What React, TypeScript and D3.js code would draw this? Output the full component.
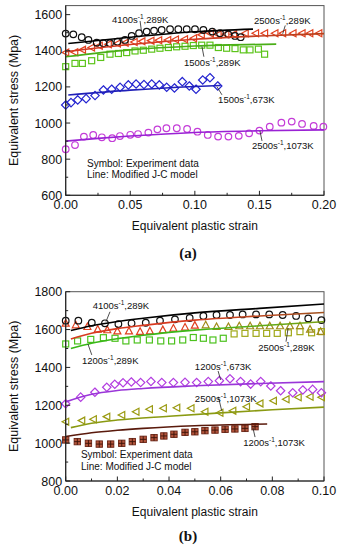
import React from 'react';
import * as d3 from 'd3';

const FONT = '"Liberation Sans", Arial, Helvetica, sans-serif';

// ---------------- Chart (a) data ----------------
const aXTicks = [0, 0.05, 0.1, 0.15, 0.2];
const aXMinor = [0.025, 0.075, 0.125, 0.175];
const aYTicks = [600, 800, 1000, 1200, 1400, 1600];
const aYMinor = [700, 900, 1100, 1300, 1500];

const a4100Strain = [0, 0.0059, 0.0124, 0.0176, 0.024, 0.0292, 0.0343, 0.04, 0.0459, 0.0511, 0.0568, 0.0627, 0.0684, 0.0743, 0.0808, 0.0872, 0.0937, 0.1001, 0.1066, 0.1135, 0.1195, 0.1259, 0.1311, 0.1355];
const a4100Stress = [1495, 1491, 1475, 1460, 1445, 1442, 1442, 1450, 1460, 1482, 1497, 1506, 1511, 1515, 1519, 1519, 1519, 1519, 1515, 1506, 1497, 1491, 1482, 1475];

const a2500Strain = [0, 0.007, 0.013, 0.02, 0.026, 0.033, 0.04, 0.046, 0.053, 0.059, 0.066, 0.072, 0.079, 0.085, 0.092, 0.099, 0.105, 0.112, 0.118, 0.124, 0.13, 0.139, 0.147, 0.154, 0.162, 0.168, 0.176, 0.183, 0.189, 0.196];
const a2500Stress = [1390, 1392, 1405, 1418, 1428, 1436, 1440, 1444, 1448, 1452, 1456, 1458, 1460, 1462, 1464, 1469, 1488, 1495, 1490, 1492, 1491, 1497, 1497, 1497, 1497, 1497, 1497, 1497, 1497, 1497];

const a1500Strain = [0, 0.0072, 0.0129, 0.0201, 0.0271, 0.0343, 0.0408, 0.0472, 0.0537, 0.0601, 0.0666, 0.073, 0.0795, 0.0859, 0.0924, 0.0988, 0.1053, 0.1117, 0.1182, 0.1246, 0.1311, 0.1375, 0.1427, 0.1492, 0.154];
const a1500Stress = [1312, 1330, 1330, 1345, 1363, 1381, 1385, 1390, 1399, 1403, 1409, 1414, 1418, 1422, 1425, 1429, 1431, 1431, 1418, 1414, 1412, 1405, 1405, 1409, 1381];

const a673Strain = [0, 0.0041, 0.0093, 0.0158, 0.0227, 0.0292, 0.0356, 0.0421, 0.0485, 0.0545, 0.0606, 0.0666, 0.0725, 0.0782, 0.0842, 0.0903, 0.0957, 0.1009, 0.1061, 0.1117, 0.1177];
const a673Stress = [1100, 1113, 1128, 1135, 1152, 1183, 1187, 1198, 1211, 1216, 1213, 1216, 1211, 1198, 1194, 1229, 1205, 1187, 1238, 1251, 1205];

const a1073Strain = [0, 0.0072, 0.0141, 0.0213, 0.028, 0.036, 0.042, 0.05, 0.056, 0.064, 0.071, 0.078, 0.086, 0.094, 0.102, 0.11, 0.118, 0.126, 0.134, 0.142, 0.15, 0.158, 0.167, 0.175, 0.183, 0.192, 0.1995];
const a1073Stress = [855, 878, 925, 934, 921, 916, 928, 935, 939, 947, 965, 971, 971, 967, 952, 934, 925, 925, 929, 943, 958, 980, 1002, 1008, 995, 984, 980];

const aLine4100 = [[0.002, 1440], [0.05, 1475], [0.1, 1505], [0.145, 1520]];
const aLine2500 = [[0, 1395], [0.05, 1435], [0.1, 1464], [0.15, 1482], [0.2, 1495]];
const aLine1500 = [[0, 1367], [0.05, 1405], [0.1, 1426], [0.163, 1437]];
const aLine673 = [[0.002, 1155], [0.05, 1182], [0.1, 1202], [0.12, 1208]];
const aLine1073 = [[0, 900], [0.025, 915], [0.05, 928], [0.1, 948], [0.15, 957], [0.2, 962]];

// ---------------- Chart (b) data ----------------
const bXTicks = [0, 0.02, 0.04, 0.06, 0.08, 0.1];
const bXMinor = [0.01, 0.03, 0.05, 0.07, 0.09];
const bYTicks = [800, 1000, 1200, 1400, 1600, 1800];
const bYMinor = [900, 1100, 1300, 1500, 1700];

const b4100Strain = [0, 0.0049, 0.0101, 0.0152, 0.0204, 0.0255, 0.031, 0.0365, 0.0423, 0.048, 0.0533, 0.0584, 0.0636, 0.0685, 0.0737, 0.0788, 0.084, 0.0892, 0.0939, 0.099];
const b4100Stress = [1647, 1647, 1636, 1633, 1629, 1633, 1636, 1647, 1654, 1661, 1672, 1677, 1677, 1680, 1680, 1680, 1677, 1672, 1659, 1650];

const b2500Strain = [0, 0.0039, 0.0084, 0.0124, 0.0161, 0.02, 0.0245, 0.0288, 0.0326, 0.0376, 0.0417, 0.0462, 0.05, 0.0542, 0.0584, 0.063, 0.0672, 0.0714, 0.0752, 0.079, 0.083, 0.0868, 0.0907, 0.0946, 0.0987];
const b2500Stress = [1633, 1624, 1615, 1601, 1598, 1592, 1592, 1589, 1592, 1598, 1607, 1612, 1622, 1624, 1615, 1615, 1619, 1619, 1619, 1619, 1619, 1619, 1619, 1601, 1589];

const b1200Strain = [0, 0.0046, 0.0097, 0.0146, 0.0191, 0.0233, 0.0277, 0.0324, 0.0368, 0.041, 0.0453, 0.0494, 0.0533, 0.057, 0.061, 0.0652, 0.0694, 0.0737, 0.0778, 0.0819, 0.0862, 0.0907, 0.0952, 0.099];
const b1200Stress = [1524, 1540, 1548, 1557, 1554, 1540, 1545, 1545, 1540, 1540, 1545, 1558, 1554, 1545, 1554, 1577, 1580, 1580, 1580, 1580, 1583, 1589, 1583, 1589];

const b673Strain = [0, 0.0058, 0.0113, 0.0159, 0.019, 0.0222, 0.0254, 0.029, 0.033, 0.0372, 0.0417, 0.0462, 0.0507, 0.0552, 0.0595, 0.0636, 0.0677, 0.0716, 0.0755, 0.0794, 0.0832, 0.0879, 0.0918, 0.0956, 0.099];
const b673Stress = [1208, 1243, 1269, 1295, 1311, 1319, 1323, 1320, 1326, 1320, 1320, 1321, 1320, 1325, 1330, 1340, 1325, 1312, 1325, 1302, 1277, 1266, 1281, 1284, 1266];

const b2500hStrain = [0, 0.0062, 0.0107, 0.0159, 0.0217, 0.0272, 0.0324, 0.0378, 0.043, 0.0485, 0.0539, 0.0597, 0.0647, 0.07, 0.0752, 0.0804, 0.0853, 0.09, 0.0946, 0.099];
const b2500hStress = [1113, 1119, 1126, 1140, 1149, 1166, 1179, 1184, 1187, 1184, 1166, 1161, 1171, 1192, 1210, 1224, 1232, 1242, 1245, 1242];

const b1200hStrain = [0, 0.0045, 0.0088, 0.013, 0.0174, 0.0217, 0.0258, 0.03, 0.0342, 0.038, 0.0419, 0.0462, 0.05, 0.0539, 0.0578, 0.0617, 0.0655, 0.0694, 0.0733];
const b1200hStress = [1017, 1008, 999, 995, 995, 999, 1008, 1020, 1029, 1038, 1047, 1057, 1060, 1066, 1069, 1073, 1075, 1078, 1087];

const bLine4100 = [[0.002, 1595], [0.01, 1620], [0.02, 1643], [0.03, 1660], [0.05, 1688], [0.075, 1712], [0.1, 1735]];
const bLine2500 = [[0.002, 1550], [0.01, 1580], [0.02, 1605], [0.03, 1622], [0.05, 1650], [0.075, 1672], [0.1, 1690]];
const bLine1200 = [[0.002, 1500], [0.01, 1528], [0.02, 1552], [0.03, 1570], [0.05, 1597], [0.075, 1620], [0.1, 1642]];
const bLine673 = [[0, 1218], [0.01, 1258], [0.02, 1278], [0.03, 1289], [0.05, 1303], [0.075, 1315], [0.1, 1325]];
const bLine2500h = [[0.002, 1082], [0.01, 1105], [0.02, 1122], [0.04, 1142], [0.06, 1160], [0.08, 1176], [0.1, 1190]];
const bLine1200h = [[0, 1035], [0.01, 1055], [0.02, 1068], [0.03, 1078], [0.05, 1092], [0.078, 1101]];

type Shape = 'circle' | 'triL' | 'triU' | 'square' | 'diamond' | 'hatchSq';

function Marker({ shape, x, y, color }: { shape: Shape; x: number; y: number; color: string }) {
  const sw = 1.2;
  switch (shape) {
    case 'circle':
      return <circle cx={x} cy={y} r={3.3} fill="none" stroke={color} strokeWidth={sw} />;
    case 'triL':
      return <polygon points={`${x - 3.6},${y} ${x + 3},${y - 3.5} ${x + 3},${y + 3.5}`} fill="none" stroke={color} strokeWidth={sw} />;
    case 'triU':
      return <polygon points={`${x},${y - 3.8} ${x + 3.5},${y + 2.8} ${x - 3.5},${y + 2.8}`} fill="none" stroke={color} strokeWidth={sw} />;
    case 'square':
      return <rect x={x - 3} y={y - 3} width={6} height={6} fill="none" stroke={color} strokeWidth={sw} />;
    case 'diamond':
      return <polygon points={`${x},${y - 4.2} ${x + 4.2},${y} ${x},${y + 4.2} ${x - 4.2},${y}`} fill="none" stroke={color} strokeWidth={sw} />;
    case 'hatchSq':
      return (
        <g>
          <rect x={x - 3.2} y={y - 3.2} width={6.4} height={6.4} fill="#b4553c" stroke="#6a2414" strokeWidth={0.9} />
          <line x1={x} y1={y - 3.2} x2={x} y2={y + 3.2} stroke="#3a1208" strokeWidth={0.9} />
          <line x1={x - 3.2} y1={y} x2={x + 3.2} y2={y} stroke="#3a1208" strokeWidth={0.9} />
        </g>
      );
  }
  return null;
}

interface Series { strain: number[]; stress: number[]; shape: Shape; color: (s: number) => string; }
interface Curve { pts: number[][]; color: string; color2?: string; id: string; }
interface Label { text: string; sup?: string; tail?: string; x: number; y: number; lx1?: number; ly1?: number; lx2?: number; ly2?: number; size?: number; }

function Panel(props: {
  top: number; bottom: number; yDomain: [number, number]; xDomain: [number, number];
  xTicks: number[]; xMinor: number[]; yTicks: number[]; yMinor: number[]; xFmt: (v: number) => string;
  series: Series[]; curves: Curve[]; labels: Label[]; panelLabel: string; panelY: number;
}) {
  const left = 65.7, right = 324;
  const x = d3.scaleLinear().domain(props.xDomain).range([left, right]);
  const y = d3.scaleLinear().domain(props.yDomain).range([props.bottom, props.top]);
  const line = d3.line<number[]>().x(d => x(d[0])).y(d => y(d[1])).curve(d3.curveMonotoneX);
  const axisColor = '#222';
  return (
    <g>
      <defs>
        {props.curves.filter(c => c.color2).map(c => (
          <linearGradient key={c.id} id={c.id} gradientUnits="userSpaceOnUse" x1={left} x2={right} y1={0} y2={0}>
            <stop offset="0%" stopColor={c.color} />
            <stop offset="45%" stopColor={c.color} />
            <stop offset="100%" stopColor={c.color2} />
          </linearGradient>
        ))}
      </defs>
      {/* frame */}
      <rect x={left} y={props.top} width={right - left} height={props.bottom - props.top} fill="none" stroke="#555" strokeWidth={1} />
      {/* series markers */}
      {props.series.map((s, i) => (
        <g key={i}>
          {s.strain.map((v, j) => (
            <Marker key={j} shape={s.shape} x={x(v)} y={y(s.stress[j])} color={s.color(v)} />
          ))}
        </g>
      ))}
      {/* model lines */}
      {props.curves.map((c, i) => (
        <path key={i} d={line(c.pts) || ''} fill="none" stroke={c.color2 ? `url(#${c.id})` : c.color} strokeWidth={1.6} />
      ))}
      {/* axes */}
      <line x1={left} x2={left} y1={props.top} y2={props.bottom} stroke={axisColor} strokeWidth={1.1} />
      <line x1={left} x2={right} y1={props.bottom} y2={props.bottom} stroke={axisColor} strokeWidth={1.1} />
      {props.xTicks.map((t, i) => (
        <g key={'xt' + i}>
          <line x1={x(t)} x2={x(t)} y1={props.bottom} y2={props.bottom - 4.5} stroke={axisColor} strokeWidth={1} />
          <text x={x(t)} y={props.bottom + 14} textAnchor="middle" fontSize={12.5} fontFamily={FONT} fill="#111">{props.xFmt(t)}</text>
        </g>
      ))}
      {props.xMinor.map((t, i) => (
        <line key={'xm' + i} x1={x(t)} x2={x(t)} y1={props.bottom} y2={props.bottom - 2.5} stroke={axisColor} strokeWidth={1} />
      ))}
      {props.yTicks.map((t, i) => (
        <g key={'yt' + i}>
          <line x1={left} x2={left + 4.5} y1={y(t)} y2={y(t)} stroke={axisColor} strokeWidth={1} />
          <text x={left - 3.5} y={y(t) + 4.5} textAnchor="end" fontSize={12.5} fontFamily={FONT} fill="#111">{t}</text>
        </g>
      ))}
      {props.yMinor.map((t, i) => (
        <line key={'ym' + i} x1={left} x2={left + 2.5} y1={y(t)} y2={y(t)} stroke={axisColor} strokeWidth={1} />
      ))}
      {/* annotations */}
      {props.labels.map((l, i) => (
        <g key={'lb' + i}>
          {l.lx1 !== undefined && (
            <line x1={x(l.lx1)} y1={y(l.ly1!)} x2={x(l.lx2!)} y2={y(l.ly2!)} stroke="#222" strokeWidth={0.8} />
          )}
          <text x={x(l.x)} y={y(l.y)} fontSize={l.size || 9.5} fontFamily={FONT} fill="#111">
            {l.text}
            {l.sup && <tspan fontSize={6.5} dy={-4}>{l.sup}</tspan>}
            {l.tail && <tspan dy={l.sup ? 4 : 0}>{l.tail}</tspan>}
          </text>
        </g>
      ))}
      {/* axis titles */}
      <text x={(left + right) / 2} y={props.bottom + 34.5} textAnchor="middle" fontSize={12} fontFamily={FONT} fill="#111">Equivalent plastic strain</text>
      <text transform={`translate(18,${(props.top + props.bottom) / 2}) rotate(-90)`} textAnchor="middle" fontSize={12.5} fontFamily={FONT} fill="#111">Equivalent stress (Mpa)</text>
      <text x={188} y={props.panelY} textAnchor="middle" fontSize={15} fontWeight="bold" fontFamily='"Liberation Serif", "DejaVu Serif", serif' fill="#111">{props.panelLabel}</text>
    </g>
  );
}

const cst = (c: string) => () => c;

export default function App() {
  const seriesA: Series[] = [
    { strain: a1073Strain, stress: a1073Stress, shape: 'circle', color: cst('#c43cd8') },
    { strain: a673Strain, stress: a673Stress, shape: 'diamond', color: cst('#2424d0') },
    { strain: a1500Strain, stress: a1500Stress, shape: 'square', color: cst('#5cc41a') },
    { strain: a2500Strain, stress: a2500Stress, shape: 'triL', color: cst('#e2401f') },
    { strain: a4100Strain, stress: a4100Stress, shape: 'circle', color: cst('#111111') },
  ];
  const curvesA: Curve[] = [
    { pts: aLine1073, color: '#9a22d4', id: 'ga1' },
    { pts: aLine673, color: '#2020b8', id: 'ga2' },
    { pts: aLine1500, color: '#4aae18', id: 'ga3' },
    { pts: aLine2500, color: '#d23a22', color2: '#b8401a', id: 'ga4' },
    { pts: aLine4100, color: '#000000', id: 'ga5' },
  ];
  const labelsA: Label[] = [
    { text: '4100s', sup: '-1', tail: ',289K', x: 0.0358, y: 1554, lx1: 0.0576, ly1: 1565, lx2: 0.0588, ly2: 1500 },
    { text: '2500s', sup: '-1', tail: ',289K', x: 0.1458, y: 1549, lx1: 0.170, ly1: 1540, lx2: 0.168, ly2: 1494 },
    { text: '1500s', sup: '-1', tail: ',289K', x: 0.0916, y: 1316, lx1: 0.1055, ly1: 1423, lx2: 0.107, ly2: 1367 },
    { text: '1500s', sup: '-1', tail: ',673K', x: 0.118, y: 1111, lx1: 0.1172, ly1: 1200, lx2: 0.121, ly2: 1156 },
    { text: '2500s', sup: '-1', tail: ',1073K', x: 0.1442, y: 856, lx1: 0.1504, ly1: 956, lx2: 0.152, ly2: 901 },
    { text: 'Symbol: Experiment data', x: 0.0165, y: 757, size: 10 },
    { text: 'Line: Modified J-C model', x: 0.0165, y: 696, size: 10 },
  ];

  const seriesB: Series[] = [
    { strain: b1200hStrain, stress: b1200hStress, shape: 'hatchSq', color: cst('#8a2c18') },
    { strain: b2500hStrain, stress: b2500hStress, shape: 'triL', color: cst('#9a9a10') },
    { strain: b673Strain, stress: b673Stress, shape: 'diamond', color: cst('#b23ce0') },
    { strain: b1200Strain, stress: b1200Stress, shape: 'square', color: (s: number) => (s < 0.063 ? '#4cc21e' : '#a0a818') },
    { strain: b2500Strain, stress: b2500Stress, shape: 'triU', color: (s: number) => (s < 0.052 ? '#e04020' : '#a08a18') },
    { strain: b4100Strain, stress: b4100Stress, shape: 'circle', color: cst('#111111') },
  ];
  const curvesB: Curve[] = [
    { pts: bLine1200h, color: '#5a1a0c', id: 'gb1' },
    { pts: bLine2500h, color: '#8a9a12', id: 'gb2' },
    { pts: bLine673, color: '#9a36d8', id: 'gb3' },
    { pts: bLine1200, color: '#3ab818', color2: '#7aa012', id: 'gb4' },
    { pts: bLine2500, color: '#d83a20', color2: '#a0521e', id: 'gb5' },
    { pts: bLine4100, color: '#000000', id: 'gb6' },
  ];
  const labelsB: Label[] = [
    { text: '4100s', sup: '-1', tail: ',289K', x: 0.01045, y: 1709, lx1: 0.01715, ly1: 1694, lx2: 0.0156, ly2: 1642 },
    { text: '1200s', sup: '-1', tail: ',289K', x: 0.0063, y: 1418, lx1: 0.0086, ly1: 1524, lx2: 0.0101, ly2: 1466 },
    { text: '2500s', sup: '-1', tail: ',289K', x: 0.0745, y: 1487, lx1: 0.0861, ly1: 1608, lx2: 0.0853, ly2: 1536 },
    { text: '1200s', sup: '-1', tail: ',673K', x: 0.05, y: 1384, lx1: 0.059, ly1: 1381, lx2: 0.06, ly2: 1334 },
    { text: '2500s', sup: '-1', tail: ',1073K', x: 0.05, y: 1217, lx1: 0.0591, ly1: 1245, lx2: 0.0604, ly2: 1171 },
    { text: '1200s', sup: '-1', tail: ',1073K', x: 0.0687, y: 985, lx1: 0.0725, ly1: 1080, lx2: 0.0733, ly2: 1032 },
    { text: 'Symbol: Experiment data', x: 0.0059, y: 921, size: 10 },
    { text: 'Line: Modified J-C model', x: 0.0059, y: 856, size: 10 },
  ];

  const f2 = d3.format('.2f');
  return (
    <svg width={341} height={550} style={{ position: 'absolute', left: 0, top: 0, background: '#fff' }}>
      <rect x={0} y={0} width={341} height={550} fill="#fff" />
      <Panel top={5.6} bottom={195.3} yDomain={[600, 1650]} xDomain={[0, 0.2]}
        xTicks={aXTicks} xMinor={aXMinor} yTicks={aYTicks} yMinor={aYMinor} xFmt={f2}
        series={seriesA} curves={curvesA} labels={labelsA} panelLabel="(a)" panelY={258} />
      <Panel top={291.7} bottom={481} yDomain={[800, 1800]} xDomain={[0, 0.1]}
        xTicks={bXTicks} xMinor={bXMinor} yTicks={bYTicks} yMinor={bYMinor} xFmt={f2}
        series={seriesB} curves={curvesB} labels={labelsB} panelLabel="(b)" panelY={541} />
    </svg>
  );
}
